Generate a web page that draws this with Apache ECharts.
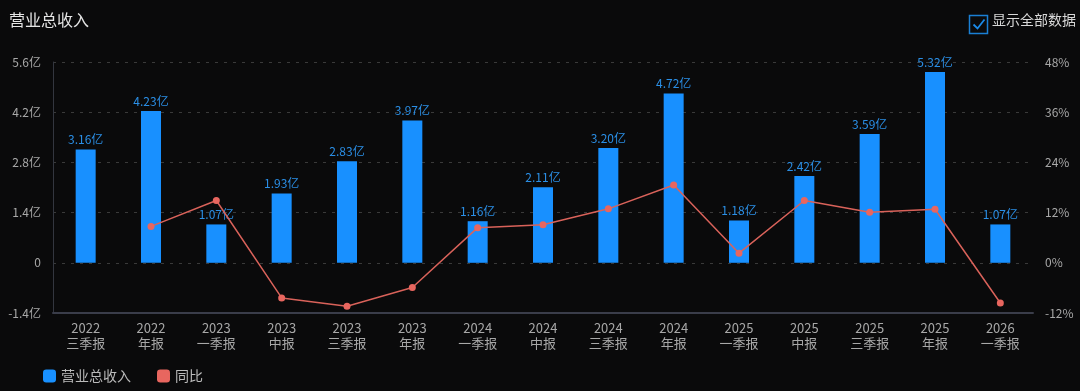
<!DOCTYPE html>
<html><head><meta charset="utf-8">
<style>html,body{margin:0;padding:0;background:#0a0a0b;}#c{width:1080px;height:391px;}</style>
<script src="https://cdn.jsdelivr.net/npm/echarts@6/dist/echarts.min.js"></script>
</head><body><div id="c"></div>
<script>
const categories = ['2022\n三季报','2022\n年报','2023\n一季报','2023\n中报','2023\n三季报','2023\n年报','2024\n一季报','2024\n中报','2024\n三季报','2024\n年报','2025\n一季报','2025\n中报','2025\n三季报','2025\n年报','2026\n一季报'];
const revenue = [3.16,4.23,1.07,1.93,2.83,3.97,1.16,2.11,3.20,4.72,1.18,2.42,3.59,5.32,1.07];
const yoy = [null,8.7,14.9,-8.4,-10.4,-5.9,8.4,9.1,12.9,18.6,2.3,14.9,12.1,12.8,-9.6];
const leftTicks = {min:-1.4,max:5.6,interval:1.4};
const rightTicks = {min:-12,max:48,interval:12};

const chart = echarts.init(document.getElementById('c'));
const font = '"Noto Sans CJK SC","Noto Sans",sans-serif';
chart.setOption({
  backgroundColor:'#0a0a0b',
  textStyle:{fontFamily:font},
  title:{text:'营业总收入',left:4,top:7,textStyle:{color:'#e6e6e6',fontSize:16,fontWeight:'normal',fontFamily:font}},
  legend:{left:38,bottom:3,itemWidth:13,itemHeight:13,itemGap:26,icon:'roundRect',
    textStyle:{color:'#bbb',fontSize:14,fontFamily:font},
    data:[{name:'营业总收入',itemStyle:{color:'#1890ff'}},{name:'同比',itemStyle:{color:'#e8665f'}}]},
  grid:{left:53,right:47,top:62,bottom:78},
  xAxis:{type:'category',data:categories,
    axisLine:{show:true,onZero:false,lineStyle:{color:'#3a3d4a',width:2}},
    axisTick:{show:false},
    axisLabel:{color:'#a8a8a8',fontSize:13,lineHeight:15,margin:8,interval:0,fontFamily:font}},
  yAxis:[{type:'value',min:leftTicks.min,max:leftTicks.max,interval:leftTicks.interval,
    axisLine:{show:true,lineStyle:{color:'#33363f'}},
    axisLabel:{color:'#a8a8a8',fontSize:12,margin:12,fontFamily:font,formatter:v=>{const n=Number(v.toFixed(1));return n===0?'0':n+'亿';}},
    splitLine:{lineStyle:{color:'#3a3a3a',type:[3,6]}}},
   {type:'value',min:rightTicks.min,max:rightTicks.max,interval:rightTicks.interval,
    axisLine:{show:false},
    axisLabel:{color:'#a8a8a8',fontSize:12,margin:12,fontFamily:font,formatter:v=>Math.round(v)+'%'},
    splitLine:{show:false}}],
  series:[
    {name:'营业总收入',type:'bar',data:revenue,barWidth:20,itemStyle:{color:'#1890ff'},
     label:{show:true,position:'top',distance:4,color:'#2b8fe6',fontSize:12,fontFamily:font,formatter:p=>p.value.toFixed(2)+'亿'}},
    {name:'同比',type:'line',yAxisIndex:1,data:yoy,symbol:'circle',symbolSize:7,
     lineStyle:{color:'#d9625a',width:1.5},itemStyle:{color:'#e8665f'}}
  ],
  graphic:[
    {type:'rect',left:967,top:13,shape:{width:18,height:18},style:{fill:'none',stroke:'#1a7fd4',lineWidth:1.5}},
    {type:'polyline',left:971,top:17,shape:{points:[[0,5],[4,9],[11,0]]},style:{stroke:'#1a8ae8',lineWidth:1.8,fill:'none'}},
    {type:'text',left:992,top:13,style:{text:'显示全部数据',fill:'#d8d8d8',fontSize:14,fontFamily:font}}
  ]
});
</script></body></html>
